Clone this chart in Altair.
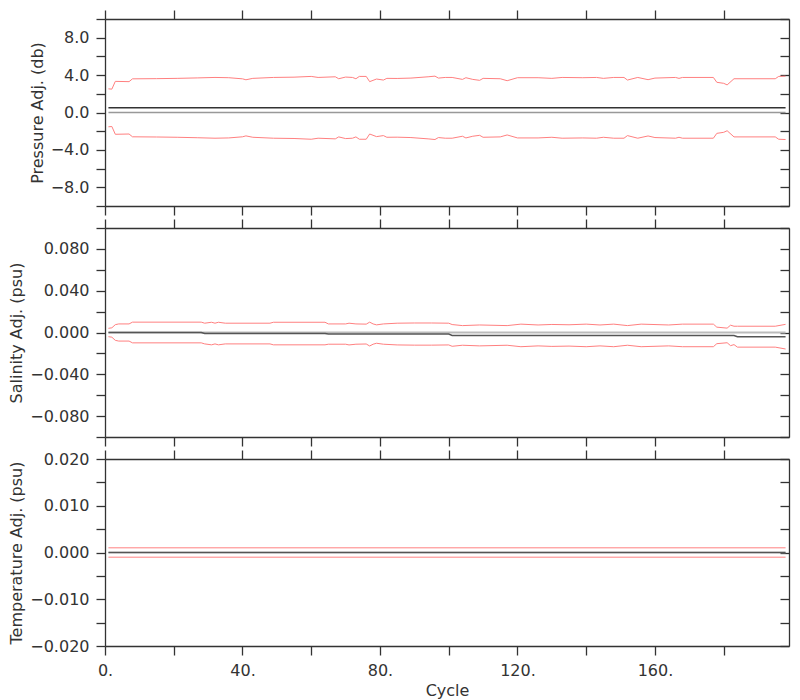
import altair as alt
import pandas as pd

# ---------------- data ----------------
X_DOMAIN = [0, 199]
x_ticks = [0, 20, 40, 60, 80, 100, 120, 140, 160, 180]

# Pressure: cycles, adjustment (db), error (db)
p_cycles = [1, 2, 3, 7, 8, 15, 21, 27, 32, 36, 40, 41, 43, 49, 55, 60, 62, 67, 68, 70,
            72, 73, 74, 76, 77, 79, 81, 82, 85, 89, 94, 96, 97, 99, 101, 104, 105, 107, 109, 110,
            115, 117, 120, 126, 130, 133, 139, 143, 145, 148, 151, 152, 155, 158, 160, 166, 167, 168, 177, 178,
            180, 181, 183, 195, 196, 198]
p_err = [2.03, 2.0, 2.83, 2.8, 3.1, 3.12, 3.15, 3.2, 3.25, 3.22, 3.1, 3.0, 3.15, 3.25, 3.28, 3.36, 3.25, 3.32, 3.11, 3.29,
         3.25, 3.11, 3.36, 3.36, 2.8, 3.08, 2.97, 3.15, 3.14, 3.18, 3.32, 3.39, 3.18, 3.25, 3.25, 3.04, 3.22, 3.04, 2.94, 3.15,
         3.11, 2.9, 3.22, 3.22, 3.15, 3.25, 3.22, 3.25, 3.15, 3.25, 3.25, 2.97, 3.25, 3.01, 3.18, 3.25, 3.15, 3.25, 3.25, 2.73,
         2.62, 2.45, 3.11, 3.11, 3.36, 3.39]
p_adj = [0.5] * len(p_cycles)

# Salinity: cycles, adjustment (psu), error (psu)
s_cycles = [1, 2, 3, 4, 7, 8, 28, 29, 31, 32, 33, 35, 48, 49, 64, 65, 70, 71, 73, 76,
            77, 78, 79, 81, 85, 90, 95, 100, 101, 104, 109, 117, 121, 126, 130, 135, 140, 144, 148, 152,
            156, 164, 168, 177, 178, 181, 182, 183, 184, 195, 198]
s_adj = [0.0, 0.0, 0.0, 0.0, 0.0, 0.0, 0.0, -0.001, -0.001, -0.001, -0.001, -0.001, -0.001, -0.001, -0.001,
         -0.0015, -0.0015, -0.0015, -0.0015, -0.0015, -0.0015, -0.0015, -0.0015, -0.0015, -0.0015, -0.0015, -0.0015, -0.0015,
         -0.0028, -0.0028, -0.0028, -0.0028, -0.0028, -0.0028, -0.0028, -0.0028, -0.0028, -0.0028, -0.0028, -0.0028,
         -0.0028, -0.0028, -0.0028, -0.0028, -0.0028, -0.0028, -0.0028, -0.0028, -0.004, -0.004, -0.004]
s_err = [0.004, 0.0045, 0.0075, 0.0082, 0.0082, 0.0099, 0.0099, 0.0099, 0.0108, 0.0099, 0.0108, 0.0099, 0.0099, 0.0108, 0.0108,
         0.0097, 0.0097, 0.0104, 0.0097, 0.0095, 0.0114, 0.0097, 0.0088, 0.0097, 0.0104, 0.0106, 0.0106, 0.0104,
         0.0104, 0.0094, 0.0100, 0.0094, 0.0108, 0.0100, 0.0105, 0.0102, 0.0108, 0.0100, 0.0108, 0.0094,
         0.0108, 0.0100, 0.0108, 0.0108, 0.0079, 0.0070, 0.0098, 0.0088, 0.0100, 0.0100, 0.0118]

# Temperature: cycles, adjustment, error
t_cycles = [1, 198]
t_adj = [0.0, 0.0]
t_err = [0.001, 0.001]

# zero reference line
ref_cycles = [1, 198]
ref_values = [0.0, 0.0]

p_ticks = [-10, -8, -6, -4, -2, 0, 2, 4, 6, 8, 10]
s_ticks = [-0.1, -0.08, -0.06, -0.04, -0.02, 0.0, 0.02, 0.04, 0.06, 0.08, 0.1]
t_ticks = [-0.02, -0.015, -0.01, -0.005, 0.0, 0.005, 0.01, 0.015, 0.02]

W = 684
RED = "#ff8080"


def panel(cycles, adj, err, ydomain, yticks, label_step, fmt, ytitle, height, last,
          black, gray, gray_w):
    n = len(cycles)
    band = pd.DataFrame({
        "cycle": list(cycles) * 2,
        "value": [a + e for a, e in zip(adj, err)] + [a - e for a, e in zip(adj, err)],
        "side": ["upper"] * n + ["lower"] * n,
    })
    adjdf = pd.DataFrame({"cycle": cycles, "value": adj})
    refdf = pd.DataFrame({"cycle": ref_cycles, "value": ref_values})
    xs = alt.Scale(domain=X_DOMAIN, nice=False, zero=False)
    ys = alt.Scale(domain=ydomain, nice=False, zero=False)
    label_expr = (f"abs(datum.value/{label_step} - round(datum.value/{label_step})) < 0.001 "
                  f"? format(datum.value, '{fmt}') : ''")
    if last:
        xb = alt.Axis(orient="bottom", values=x_ticks,
                      labelExpr="abs(datum.value % 40) < 0.001 ? format(datum.value, 'd') + '.' : ''",
                      labelFlush=False, labelOverlap=False, title="Cycle", titlePadding=4)
    else:
        xb = alt.Axis(orient="bottom", values=x_ticks, labels=False, title=None)
    yl = alt.Axis(orient="left", values=yticks, labelExpr=label_expr, labelFlush=False,
                  labelOverlap=False, title=ytitle)
    xt = alt.Axis(orient="top", values=x_ticks, labels=False, title=None)
    yr = alt.Axis(orient="left", offset=-W, values=yticks, labels=False, title=None)

    ref = alt.Chart(refdf).mark_line(color=gray, strokeWidth=gray_w).encode(
        x=alt.X("cycle:Q", scale=xs, axis=xb),
        y=alt.Y("value:Q", scale=ys, axis=yl),
    )
    bandc = alt.Chart(band).mark_line(color=RED, strokeWidth=1).encode(
        x=alt.X("cycle:Q", scale=xs, axis=xt),
        y=alt.Y("value:Q", scale=ys, axis=yr),
        detail="side:N",
    )
    adjc = alt.Chart(adjdf).mark_line(color=black, strokeWidth=1.5).encode(
        x=alt.X("cycle:Q", scale=xs, axis=None),
        y=alt.Y("value:Q", scale=ys, axis=None),
    )
    return alt.layer(ref, bandc, adjc).resolve_axis(x="independent", y="independent").properties(
        width=W, height=height)


p1 = panel(p_cycles, p_adj, p_err, [-10, 10], p_ticks, 4, ".1f", "Pressure Adj. (db)", 187, False,
           "#333333", "#999999", 1.5)
p2 = panel(s_cycles, s_adj, s_err, [-0.1, 0.1], s_ticks, 0.04, ".3f", "Salinity Adj. (psu)", 209, False,
           "#555555", "#bbbbbb", 2)
p3 = panel(t_cycles, t_adj, t_err, [-0.02, 0.02], t_ticks, 0.01, ".3f", "Temperature Adj. (psu)", 187, True,
           "#555555", "#bbbbbb", 1.5)

chart = alt.vconcat(p1, p2, p3, spacing=0).properties(
    padding={"left": 0, "top": 0, "right": 0, "bottom": 0}
).configure_view(stroke="transparent").configure_axis(
    grid=False,
    domainColor="#333333", tickColor="#333333", domainWidth=1.3, tickWidth=1.3,
    tickSize=9, labelPadding=7, titlePadding=5,
    labelFont="DejaVu Sans", labelFontSize=16, labelColor="#333333",
    titleFont="DejaVu Sans", titleFontSize=16, titleFontWeight="normal", titleColor="#333333",
)

chart.save("out.html", embed_options={"renderer": "svg", "actions": False})
